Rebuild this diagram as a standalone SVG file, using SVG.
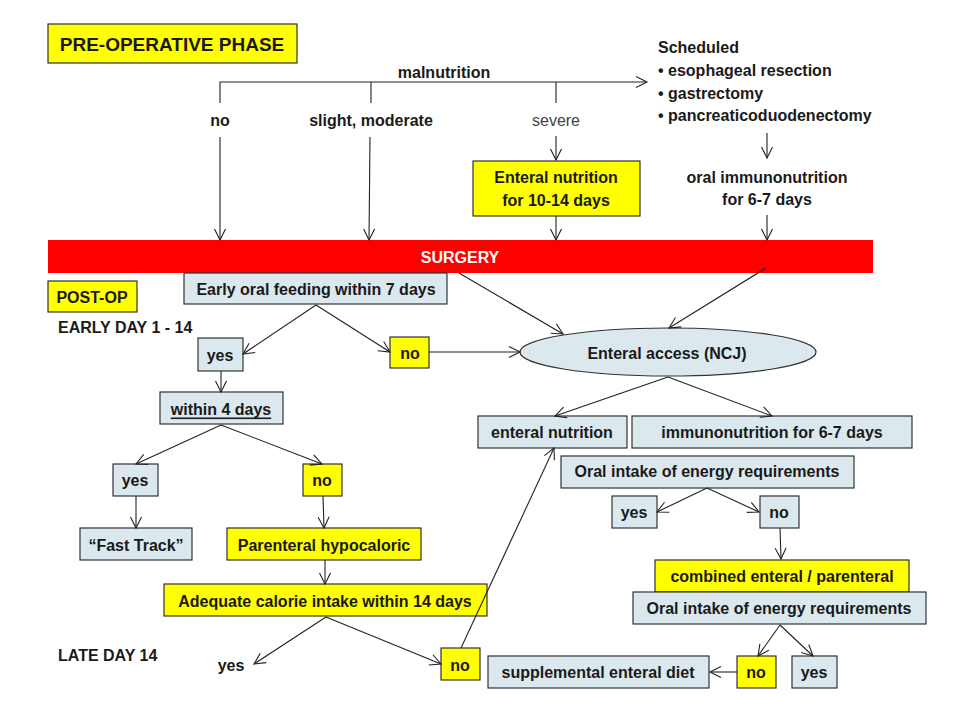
<svg xmlns="http://www.w3.org/2000/svg" width="960" height="720" viewBox="0 0 960 720">
<style>
text{font-family:"Liberation Sans",Arial,sans-serif;font-size:16px;font-weight:bold;fill:#1a1a1a}
.t{text-anchor:middle;dominant-baseline:central}
.b{fill:#dbe8ed;stroke:#333;stroke-width:1.2}
.y{fill:#ffff00;stroke:#333;stroke-width:1.2}
.c line,.c polyline{stroke:#222;stroke-width:1.1;fill:none;marker-end:url(#a)}
</style>
<defs>
<marker id="a" markerWidth="14" markerHeight="14" refX="12" refY="7" orient="auto" markerUnits="userSpaceOnUse">
<path d="M1,1.5 L12,7 L1,12.5" fill="none" stroke="#222" stroke-width="1.1"/>
</marker>
</defs>
<rect width="960" height="720" fill="#fff"/>
<g id="preop"><rect class="y" x="48" y="24" width="249" height="39"/><text class="t" x="172" y="44" style="font-size:19px">PRE-OPERATIVE PHASE</text></g>
<g id="malnutrition"><text class="t" x="444" y="72">malnutrition</text></g>
<g id="l-no"><text class="t" x="220" y="120">no</text></g>
<g id="l-slight"><text class="t" x="371" y="120">slight, moderate</text></g>
<g id="l-severe"><text class="t" x="556" y="120" style="font-weight:normal;fill:#444">severe</text></g>
<g id="scheduled"><text x="658" y="53">Scheduled</text><text x="658" y="76">• esophageal resection</text><text x="658" y="99">• gastrectomy</text><text x="658" y="121">• pancreaticoduodenectomy</text></g>
<g id="enteral-pre"><rect class="y" x="473" y="161" width="167" height="55"/><text class="t" x="556" y="177">Enteral nutrition</text><text class="t" x="556" y="200">for 10-14 days</text></g>
<g id="oral-immuno"><text class="t" x="767" y="177">oral immunonutrition</text><text class="t" x="767" y="199">for 6-7 days</text></g>
<g id="surgery"><rect x="48" y="240" width="825" height="33" fill="#ff0000"/><text class="t" x="460" y="257" style="fill:#fff;font-size:16px">SURGERY</text></g>
<g id="postop"><rect class="y" x="48" y="281" width="89" height="31"/><text class="t" x="92" y="297">POST-OP</text></g>
<g id="early-day"><text x="58" y="333">EARLY DAY 1 - 14</text></g>
<g id="late-day"><text x="58" y="661">LATE DAY 14</text></g>
<g id="early-oral"><rect class="b" x="184" y="273" width="263" height="31"/><text class="t" x="316" y="289">Early oral feeding within 7 days</text></g>
<g id="yes1"><rect class="b" x="198" y="338" width="45" height="33"/><text class="t" x="220" y="355">yes</text></g>
<g id="no1"><rect class="y" x="390" y="337" width="39" height="31"/><text class="t" x="410" y="353">no</text></g>
<g id="ncj"><ellipse cx="668" cy="352" rx="148" ry="24" class="b"/><text class="t" x="667" y="353">Enteral access (NCJ)</text></g>
<g id="within4"><rect class="b" x="160" y="392" width="123" height="32"/><text class="t" x="221" y="409" text-decoration="underline">within 4 days</text></g>
<g id="yes2"><rect class="b" x="113" y="464" width="45" height="32"/><text class="t" x="135" y="480">yes</text></g>
<g id="no2"><rect class="y" x="303" y="464" width="39" height="32"/><text class="t" x="322" y="480">no</text></g>
<g id="fast-track"><rect class="b" x="80" y="528" width="112" height="32"/><text class="t" x="136" y="545">“Fast Track”</text></g>
<g id="parenteral"><rect class="y" x="227" y="528" width="194" height="32"/><text class="t" x="324" y="545">Parenteral hypocaloric</text></g>
<g id="adequate"><rect class="y" x="164" y="584" width="323" height="32"/><text class="t" x="325" y="601">Adequate calorie intake within 14 days</text></g>
<g id="yes3"><text class="t" x="231" y="665">yes</text></g>
<g id="no3"><rect class="y" x="441" y="648" width="39" height="32"/><text class="t" x="460" y="665">no</text></g>
<g id="enteral-nut"><rect class="b" x="478" y="416" width="149" height="32"/><text class="t" x="552" y="432">enteral nutrition</text></g>
<g id="immuno"><rect class="b" x="632" y="416" width="280" height="32"/><text class="t" x="772" y="432">immunonutrition for 6-7 days</text></g>
<g id="oral1"><rect class="b" x="561" y="456" width="293" height="32"/><text class="t" x="707" y="471">Oral intake of energy requirements</text></g>
<g id="yes4"><rect class="b" x="612" y="496" width="45" height="32"/><text class="t" x="634" y="512">yes</text></g>
<g id="no4"><rect class="b" x="760" y="496" width="39" height="32"/><text class="t" x="779" y="512">no</text></g>
<g id="combined"><rect class="y" x="655" y="560" width="254" height="32"/><text class="t" x="782" y="576">combined enteral / parenteral</text></g>
<g id="oral2"><rect class="b" x="633" y="592" width="293" height="32"/><text class="t" x="779" y="608">Oral intake of energy requirements</text></g>
<g id="supp"><rect class="b" x="488" y="656" width="221" height="32"/><text class="t" x="598" y="672">supplemental enteral diet</text></g>
<g id="no5"><rect class="y" x="737" y="656" width="39" height="32"/><text class="t" x="756" y="672">no</text></g>
<g id="yes5"><rect class="b" x="792" y="656" width="45" height="32"/><text class="t" x="814" y="672">yes</text></g>
<g id="connectors" class="c">
<polyline points="220,103 220,82 647,82"/>
<line x1="371" y1="82" x2="371" y2="103" style="marker-end:none"/>
<line x1="556" y1="82" x2="556" y2="103" style="marker-end:none"/>
<line x1="220" y1="137" x2="220" y2="240"/>
<line x1="370" y1="137" x2="369" y2="240"/>
<line x1="556" y1="136" x2="556" y2="160"/>
<line x1="556" y1="216" x2="556" y2="240"/>
<line x1="767" y1="133" x2="767" y2="158"/>
<line x1="767" y1="215" x2="767" y2="240"/>
<line x1="459" y1="273" x2="563" y2="334"/>
<line x1="766" y1="268" x2="669" y2="328"/>
<line x1="316" y1="305" x2="243" y2="354"/>
<line x1="316" y1="305" x2="390" y2="352"/>
<line x1="429" y1="352" x2="520" y2="352"/>
<line x1="221" y1="371" x2="221" y2="392"/>
<line x1="221" y1="425" x2="136" y2="464"/>
<line x1="221" y1="425" x2="322" y2="464"/>
<line x1="136" y1="496" x2="136" y2="528"/>
<line x1="323" y1="496" x2="324" y2="528"/>
<line x1="325" y1="560" x2="325" y2="584"/>
<line x1="326" y1="617" x2="254" y2="664"/>
<line x1="326" y1="617" x2="441" y2="664"/>
<line x1="461" y1="648" x2="554" y2="448"/>
<line x1="668" y1="377" x2="555" y2="416"/>
<line x1="668" y1="377" x2="772" y2="416"/>
<line x1="707" y1="488" x2="657" y2="512"/>
<line x1="707" y1="488" x2="759" y2="512"/>
<line x1="780" y1="528" x2="781" y2="559"/>
<line x1="780" y1="625" x2="758" y2="656"/>
<line x1="780" y1="625" x2="813" y2="656"/>
<line x1="737" y1="672" x2="710" y2="672"/>
</g>
</svg>
